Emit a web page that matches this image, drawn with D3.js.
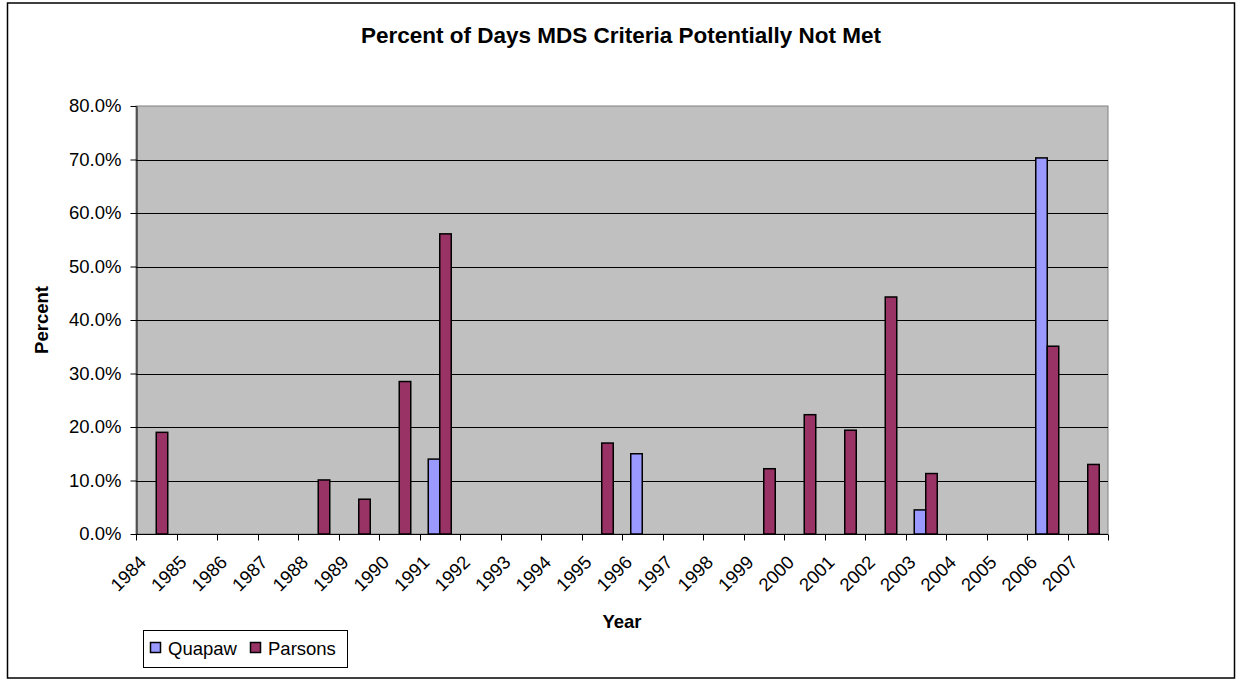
<!DOCTYPE html>
<html>
<head>
<meta charset="utf-8">
<script src="https://cdn.jsdelivr.net/npm/d3@7"></script>
<style>
  body { margin: 0; background: #fff; }
  svg text { font-family: "Liberation Sans", Arial, sans-serif; fill: #000; }
</style>
</head>
<body>
<div id="chart"></div>
<script>
// chart data (percent values)
var years = ["1984","1985","1986","1987","1988","1989","1990","1991","1992","1993","1994","1995",
             "1996","1997","1998","1999","2000","2001","2002","2003","2004","2005","2006","2007"];
var seriesNames = ["Quapaw", "Parsons"];
var seriesColors = ["#9999FF", "#993366"];
var quapaw = [null,null,null,null,null,null,null,14.0,null,null,null,null,
              15.0,null,null,null,null,null,null,4.5,null,null,70.3,null];
var parsons = [19.0,null,null,null,10.1,6.5,28.5,56.1,null,null,null,17.0,
               null,null,null,12.2,22.3,19.4,44.3,11.3,null,null,35.1,13.0];
var yTicks = [0, 10, 20, 30, 40, 50, 60, 70, 80];

var W = 1236, H = 680;
var plot = { left: 136, right: 1108, top: 106, bottom: 534 };

var svg = d3.select("#chart").append("svg")
  .attr("width", W).attr("height", H);

// outer chart frame
svg.append("rect")
  .attr("x", 7.5).attr("y", 3).attr("width", 1227).attr("height", 675)
  .attr("fill", "#fff").attr("stroke", "#000").attr("stroke-width", 1.5);

var x0 = d3.scaleBand().domain(years)
  .range([plot.left, plot.right])
  .paddingInner(0.432).paddingOuter(0.216);
var x1 = d3.scaleBand().domain(seriesNames).range([0, x0.bandwidth()]);
var y = d3.scaleLinear().domain([0, 80]).range([plot.bottom, plot.top]);

// plot area
svg.append("rect")
  .attr("x", plot.left).attr("y", plot.top)
  .attr("width", plot.right - plot.left).attr("height", plot.bottom - plot.top)
  .attr("fill", "#C0C0C0").attr("stroke", "#808080").attr("stroke-width", 1);

// gridlines
svg.append("g").selectAll("line")
  .data(yTicks.filter(function (d) { return d > 0 && d < 80; }))
  .enter().append("line")
  .attr("x1", plot.left).attr("x2", plot.right)
  .attr("y1", function (d) { return Math.round(y(d)) + 0.5; })
  .attr("y2", function (d) { return Math.round(y(d)) + 0.5; })
  .attr("stroke", "#000").attr("stroke-width", 1);

// bars
var rows = years.map(function (yr, i) {
  return { year: yr, values: [quapaw[i], parsons[i]] };
});
var groups = svg.append("g").selectAll("g")
  .data(rows).enter().append("g")
  .attr("transform", function (d) { return "translate(" + x0(d.year) + ",0)"; });
groups.selectAll("rect")
  .data(function (d) {
    return d.values.map(function (v, k) { return { name: seriesNames[k], k: k, v: v }; })
      .filter(function (e) { return e.v != null; });
  })
  .enter().append("rect")
  .attr("x", function (d) { return x1(d.name); })
  .attr("width", x1.bandwidth())
  .attr("y", function (d) { return y(d.v); })
  .attr("height", function (d) { return y(0) - y(d.v); })
  .attr("fill", function (d) { return seriesColors[d.k]; })
  .attr("stroke", "#000").attr("stroke-width", 1.5);

// y axis
var yAxis = svg.append("g")
  .attr("transform", "translate(" + (plot.left + 0.5) + ",0)")
  .call(d3.axisLeft(y).tickValues(yTicks).tickSize(6).tickSizeOuter(0)
    .tickFormat(function (d) { return (d).toFixed(1) + "%"; }));
yAxis.select(".domain").attr("stroke", "#000");
yAxis.selectAll(".tick line").attr("stroke", "#000");
yAxis.selectAll(".tick text")
  .attr("x", -15).style("font-size", "18.5px").attr("fill", "#000");

// x axis with ticks between categories
var xAxis = svg.append("g")
  .attr("transform", "translate(0," + (plot.bottom + 0.5) + ")");
xAxis.append("line")
  .attr("x1", plot.left).attr("x2", plot.right)
  .attr("stroke", "#000");
var step = x0.step();
xAxis.selectAll(".tk")
  .data(d3.range(years.length + 1))
  .enter().append("line")
  .attr("x1", function (i) { return Math.round(plot.left + i * step) + 0.5; })
  .attr("x2", function (i) { return Math.round(plot.left + i * step) + 0.5; })
  .attr("y1", 0).attr("y2", 6)
  .attr("stroke", "#000");
xAxis.selectAll(".lbl")
  .data(years)
  .enter().append("text")
  .attr("transform", function (d) {
    var cx = x0(d) + x0.bandwidth() / 2;
    return "translate(" + (cx - 9) + ",29) rotate(-45)";
  })
  .attr("text-anchor", "end")
  .style("font-size", "18.5px")
  .text(function (d) { return d; });

// titles
svg.append("text")
  .attr("x", 621).attr("y", 43)
  .attr("text-anchor", "middle")
  .style("font-size", "22.5px").style("font-weight", "bold")
  .text("Percent of Days MDS Criteria Potentially Not Met");

svg.append("text")
  .attr("x", 622).attr("y", 628)
  .attr("text-anchor", "middle")
  .style("font-size", "18.5px").style("font-weight", "bold")
  .text("Year");

svg.append("text")
  .attr("transform", "translate(48,320) rotate(-90)")
  .attr("text-anchor", "middle")
  .style("font-size", "18.5px").style("font-weight", "bold")
  .text("Percent");

// legend
var legend = svg.append("g");
legend.append("rect")
  .attr("x", 143.5).attr("y", 630.5).attr("width", 204).attr("height", 37)
  .attr("fill", "#fff").attr("stroke", "#000");
var legendX = [150, 250];
seriesNames.forEach(function (name, k) {
  legend.append("rect")
    .attr("x", legendX[k] + 0.5).attr("y", 642.5).attr("width", 10).attr("height", 10)
    .attr("fill", seriesColors[k]).attr("stroke", "#000").attr("stroke-width", 1.5);
  legend.append("text")
    .attr("x", legendX[k] + 18).attr("y", 654.5)
    .style("font-size", "18.5px")
    .text(name);
});
</script>
</body>
</html>
